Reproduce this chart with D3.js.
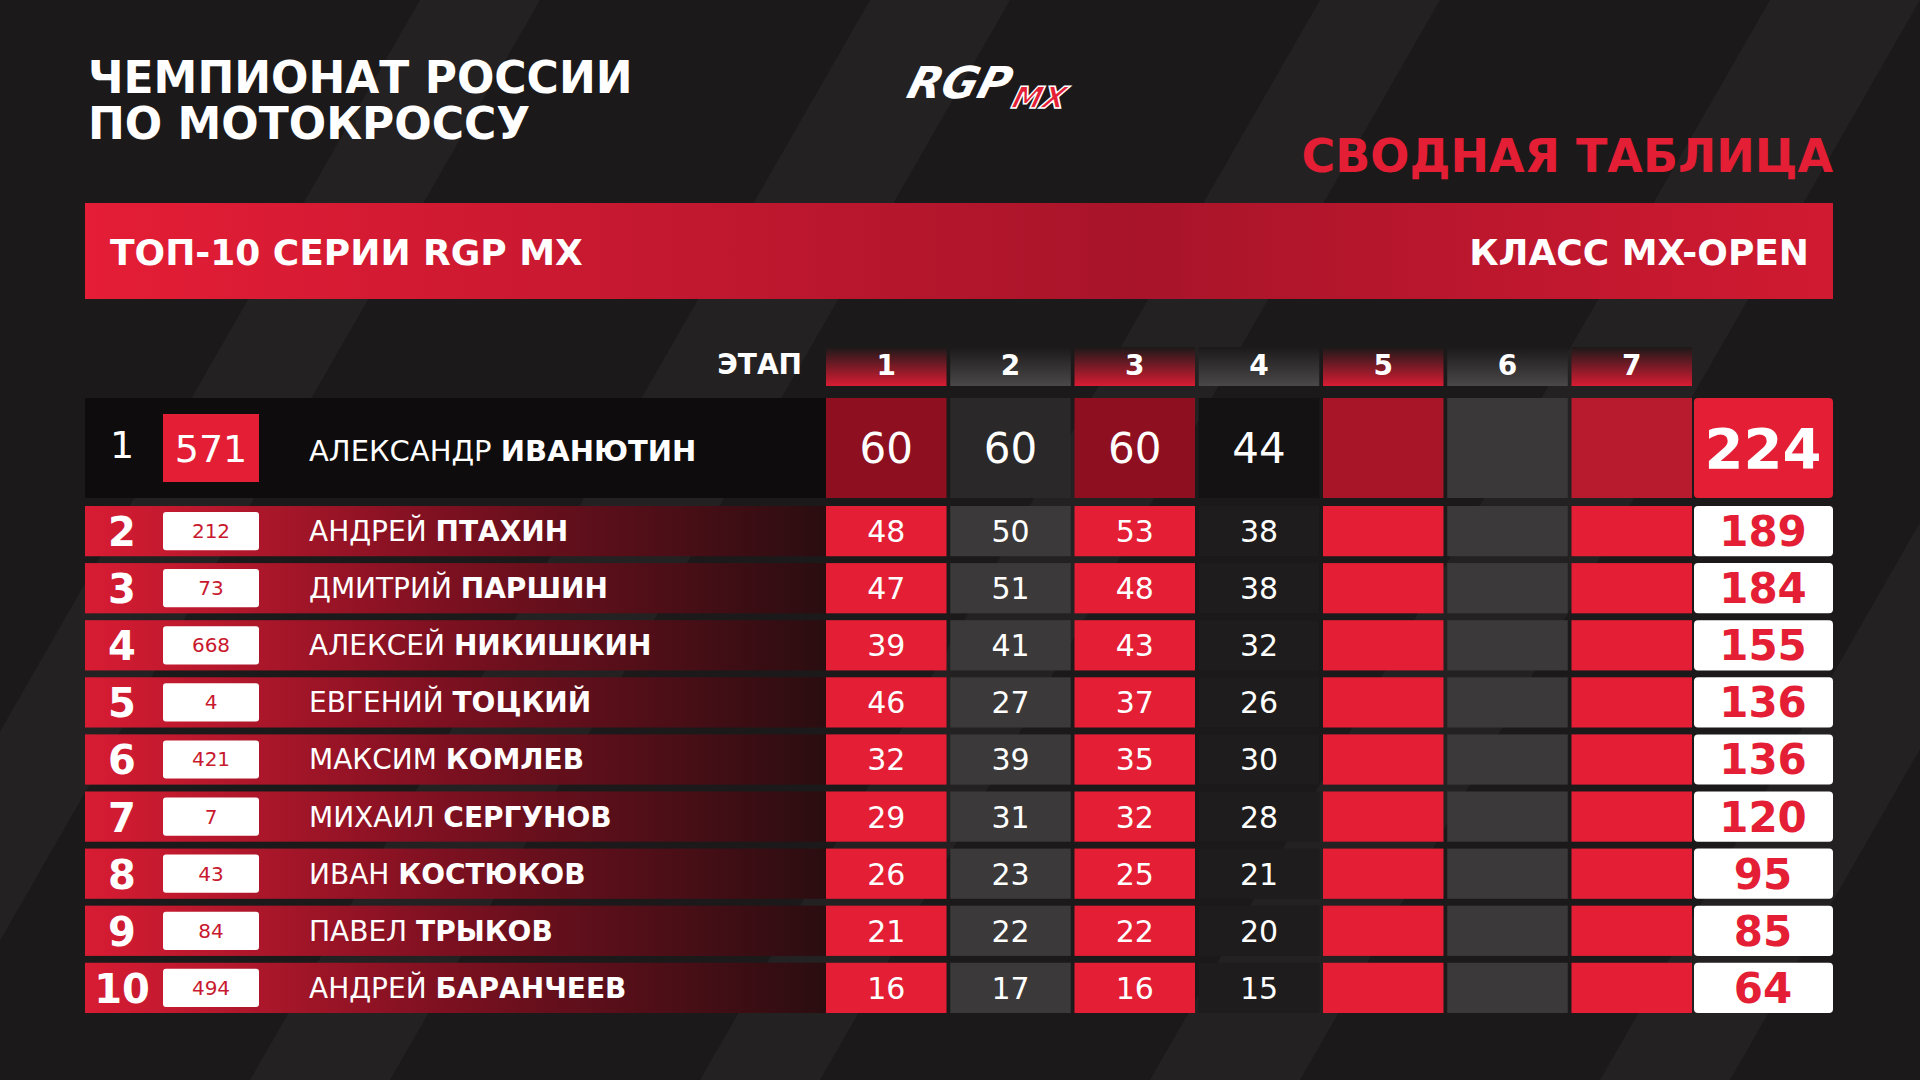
<!DOCTYPE html>
<html><head><meta charset="utf-8">
<script src="https://cdn.jsdelivr.net/npm/d3@7"></script>
<style>body{margin:0;background:#1b1919}svg{display:block}text{font-family:"DejaVu Sans",sans-serif}</style>
</head><body><svg width="1920" height="1080"></svg>
<script>
const ranks = [1,2,3,4,5,6,7,8,9,10];
const bikeNumbers = ['571','212','73','668','4','421','7','43','84','494'];
const firstNames = ['АЛЕКСАНДР','АНДРЕЙ','ДМИТРИЙ','АЛЕКСЕЙ','ЕВГЕНИЙ','МАКСИМ','МИХАИЛ','ИВАН','ПАВЕЛ','АНДРЕЙ'];
const lastNames = ['ИВАНЮТИН','ПТАХИН','ПАРШИН','НИКИШКИН','ТОЦКИЙ','КОМЛЕВ','СЕРГУНОВ','КОСТЮКОВ','ТРЫКОВ','БАРАНЧЕЕВ'];
const stages = ['1','2','3','4','5','6','7'];
const stage1 = [60,48,47,39,46,32,29,26,21,16];
const stage2 = [60,50,51,41,27,39,31,23,22,17];
const stage3 = [60,53,48,43,37,35,32,25,22,16];
const stage4 = [44,38,38,32,26,30,28,21,20,15];
const totals = [224,189,184,155,136,136,120,95,85,64];

const svg = d3.select('svg');
const defs = svg.append('defs');
const g1 = defs.append('linearGradient').attr('id','band');
g1.append('stop').attr('offset','0').attr('stop-color','#e51d36');
g1.append('stop').attr('offset','0.6').attr('stop-color','#a8142a');
g1.append('stop').attr('offset','1').attr('stop-color','#d01a31');
const g2 = defs.append('linearGradient').attr('id','row');
g2.append('stop').attr('offset','0').attr('stop-color','#d81c33');
g2.append('stop').attr('offset','0.5').attr('stop-color','#7a1020');
g2.append('stop').attr('offset','1').attr('stop-color','#2a0d10');
const g3 = defs.append('linearGradient').attr('id','hdrRed').attr('x1',0).attr('y1',0).attr('x2',0).attr('y2',1);
g3.append('stop').attr('offset','0').attr('stop-color','#1b1919');
g3.append('stop').attr('offset','1').attr('stop-color','#d81c33');
const g4 = defs.append('linearGradient').attr('id','hdrGray').attr('x1',0).attr('y1',0).attr('x2',0).attr('y2',1);
g4.append('stop').attr('offset','0').attr('stop-color','#1b1919');
g4.append('stop').attr('offset','1').attr('stop-color','#4a4848');

// background diagonal stripes
const stripes = [[-200,120],[250,140],[700,120],[1150,150],[1600,130],[2000,120]];
svg.selectAll('.stripe').data(stripes).join('path')
  .attr('d', d => `M${d[0]},1080 L${d[0]+d[1]},1080 L${d[0]+d[1]+620},0 L${d[0]+620},0 Z`)
  .attr('fill','#2a2828').attr('opacity',0.55);

// titles
svg.append('text').attr('x',88).attr('y',93).attr('fill','#fff').attr('font-size',44).attr('font-weight','bold').text('ЧЕМПИОНАТ РОССИИ');
svg.append('text').attr('x',88).attr('y',139).attr('fill','#fff').attr('font-size',44).attr('font-weight','bold').text('ПО МОТОКРОССУ');
const logo = svg.append('g').attr('transform','translate(905,98) skewX(-15)');
logo.append('text').attr('x',0).attr('y',0).attr('fill','#fff').attr('font-size',44).attr('font-weight','bold').attr('font-style','italic').text('RGP');
logo.append('text').attr('x',108).attr('y',10).attr('fill','#e31e35').attr('stroke','#fff').attr('stroke-width',1.5).attr('font-size',30).attr('font-weight','bold').attr('font-style','italic').text('MX');
svg.append('text').attr('x',1833).attr('y',172).attr('text-anchor','end').attr('fill','#e31e35').attr('font-size',46).attr('font-weight','bold').text('СВОДНАЯ ТАБЛИЦА');

// red band
svg.append('rect').attr('x',85).attr('y',203).attr('width',1748).attr('height',96).attr('fill','url(#band)');
svg.append('text').attr('x',110).attr('y',265).attr('fill','#fff').attr('font-size',36).attr('font-weight','bold').text('ТОП-10 СЕРИИ RGP MX');
svg.append('text').attr('x',1809).attr('y',265).attr('text-anchor','end').attr('fill','#fff').attr('font-size',36).attr('font-weight','bold').text('КЛАСС MX-OPEN');

// scales
const x = d3.scaleBand().domain(stages).range([826,1692]).paddingInner(0.03);
const y = d3.scaleBand().domain(ranks.slice(1)).range([506,1013]).paddingInner(0.12);
const top1 = {y:398,h:100};
const stageVals = [stage1,stage2,stage3,stage4];
const isRed = s => (+s) % 2 === 1;

// stage header
svg.selectAll('.hdr').data(stages).join('rect')
  .attr('x', d => x(d)).attr('y',347).attr('width',x.bandwidth()).attr('height',39)
  .attr('fill', d => isRed(d) ? 'url(#hdrRed)' : 'url(#hdrGray)');
svg.selectAll('.hdrt').data(stages).join('text')
  .attr('x', d => x(d)+x.bandwidth()/2).attr('y',375).attr('text-anchor','middle')
  .attr('fill','#fff').attr('font-size',28).attr('font-weight','bold').text(d => d);
svg.append('text').attr('x',802).attr('y',374).attr('text-anchor','end').attr('fill','#fff').attr('font-size',28).attr('font-weight','bold').text('ЭТАП');

// row 1 leader
svg.append('rect').attr('x',85).attr('y',top1.y).attr('width',741).attr('height',top1.h).attr('fill','#0e0c0c');
const leadFill = ['#8e1020','#2a2828','#8e1020','#141212','#a81528','#3a3838','#b81a2e'];
svg.selectAll('.lc').data(stages).join('rect')
  .attr('x', d => x(d)).attr('y',top1.y).attr('width',x.bandwidth()).attr('height',top1.h)
  .attr('fill',(d,i) => leadFill[i]);
svg.selectAll('.lt').data(stageVals).join('text')
  .attr('x',(d,i) => x(stages[i])+x.bandwidth()/2).attr('y',top1.y+65).attr('text-anchor','middle')
  .attr('fill','#fff').attr('font-size',42).text(d => d[0]);
svg.append('rect').attr('x',1694).attr('y',top1.y).attr('width',139).attr('height',top1.h).attr('rx',4).attr('fill','#e31e35');
svg.append('text').attr('x',1763).attr('y',top1.y+70).attr('text-anchor','middle').attr('fill','#fff').attr('font-size',56).attr('font-weight','bold').text(totals[0]);
svg.append('text').attr('x',122).attr('y',top1.y+60).attr('text-anchor','middle').attr('fill','#fff').attr('font-size',38).text(ranks[0]);
svg.append('rect').attr('x',163).attr('y',414).attr('width',96).attr('height',68).attr('fill','#e31e35');
svg.append('text').attr('x',211).attr('y',462).attr('text-anchor','middle').attr('fill','#fff').attr('font-size',38).text(bikeNumbers[0]);
const n1 = svg.append('text').attr('x',309).attr('y',top1.y+63).attr('fill','#fff').attr('font-size',29);
n1.append('tspan').text(firstNames[0]+' ');
n1.append('tspan').attr('font-weight','bold').text(lastNames[0]);

// rows 2..10
const rows = ranks.slice(1).map((r,k) => ({r, i:k+1}));
const rg = svg.selectAll('.row').data(rows).join('g').attr('transform', d => `translate(0,${y(d.r)})`);
const h = y.bandwidth();
rg.append('rect').attr('x',85).attr('width',741).attr('height',h).attr('fill','url(#row)');
rg.append('text').attr('x',122).attr('y',h/2+15).attr('text-anchor','middle').attr('fill','#fff').attr('font-size',40).attr('font-weight','bold').text(d => d.r);
rg.append('rect').attr('x',163).attr('y',6).attr('width',96).attr('height',h-12).attr('rx',3).attr('fill','#fff');
rg.append('text').attr('x',211).attr('y',h/2+7).attr('text-anchor','middle').attr('fill','#c8192e').attr('font-size',20).text(d => bikeNumbers[d.i]);
const nm = rg.append('text').attr('x',309).attr('y',h/2+10).attr('fill','#fff').attr('font-size',28);
nm.append('tspan').text(d => firstNames[d.i]+' ');
nm.append('tspan').attr('font-weight','bold').text(d => lastNames[d.i]);
stages.forEach((s,j) => {
  rg.append('rect').attr('x',x(s)).attr('width',x.bandwidth()).attr('height',h).attr('fill', isRed(s) ? '#e31e35' : (j===3 ? '#1e1c1c' : '#3b3939'));
  if (j < stageVals.length)
    rg.append('text').attr('x',x(s)+x.bandwidth()/2).attr('y',h/2+11).attr('text-anchor','middle').attr('fill','#fff').attr('font-size',30).text(d => stageVals[j][d.i]);
});
rg.append('rect').attr('x',1694).attr('width',139).attr('height',h).attr('rx',4).attr('fill','#fff');
rg.append('text').attr('x',1763).attr('y',h/2+15).attr('text-anchor','middle').attr('fill','#e31e35').attr('font-size',42).attr('font-weight','bold').text(d => totals[d.i]);
</script></body></html>
